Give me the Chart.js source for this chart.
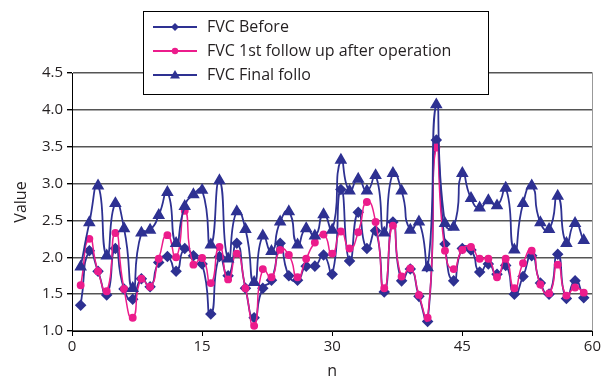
<!DOCTYPE html>
<html>
<head>
<meta charset="utf-8">
<script src="https://cdn.jsdelivr.net/npm/chart.js@4/dist/chart.umd.min.js"></script>
<style>
  body{margin:0;background:#fff;}
  #wrap{width:603px;height:381px;}
</style>
</head>
<body>
<div id="wrap"><canvas id="myChart"></canvas></div>
<script>
var n=[1,2,3,4,5,6,7,8,9,10,11,12,13,14,15,16,17,18,19,20,21,22,23,24,25,26,27,28,29,30,
  31,32,33,34,35,36,37,38,39,40,41,42,43,44,45,46,47,48,49,50,51,52,53,54,55,56,57,58,59];
var fvcBefore=[1.35,2.09,1.81,1.49,2.12,1.57,1.43,1.71,1.60,1.93, 2.01,1.81,2.12,2.02,1.91,1.23,2.01,1.75,2.19,1.58,
  1.18,1.58,1.69,2.19,1.75,1.69,1.88,1.88,2.03,1.77, 2.92,1.95,2.61,2.12,2.36,1.53,2.48,1.68,1.84,1.47,
  1.13,3.59,2.18,1.68,2.12,2.10,1.80,1.91,1.77,1.89, 1.50,1.74,2.02,1.65,1.50,2.04,1.44,1.68,1.45];
var fvcFirst=[1.62,2.25,1.81,1.54,2.33,1.57,1.18,1.71,1.60,1.98, 2.30,2.00,2.63,1.90,1.99,1.65,2.14,1.70,2.05,1.58,
  1.07,1.84,1.73,2.10,2.03,1.73,1.98,2.20,2.31,2.05, 2.35,2.12,2.34,2.75,2.48,1.58,2.43,1.74,1.85,1.49,
  1.18,3.49,2.09,1.84,2.10,2.14,1.98,1.98,1.73,1.98, 1.58,1.92,2.09,1.63,1.51,1.90,1.48,1.59,1.52];
var fvcFinal=[1.87,2.47,2.97,2.02,2.73,2.39,1.58,2.33,2.37,2.57, 2.88,2.19,2.69,2.85,2.91,2.17,3.04,1.98,2.62,2.38,
  1.66,2.29,2.08,2.48,2.62,2.17,2.39,2.29,2.58,2.37, 3.32,2.90,3.06,2.90,3.11,2.33,3.14,2.90,2.37,2.48,
  1.86,4.07,2.46,2.41,3.14,2.80,2.67,2.77,2.70,2.94, 2.10,2.73,2.97,2.47,2.38,2.83,2.19,2.46,2.23];
var seriesNames=['FVC Before','FVC 1st follow up after operation','FVC Final follo'];
var xTicks=[0,15,30,45,60];

var navy='#2E3192', pink='#EC1C8C';
var FONT='"Open Sans", "Noto Sans", sans-serif';

function pts(arr){ return arr.map(function(v,i){ return {x:n[i],y:v}; }); }

// legend box + right border
var extras={
  id:'extras',
  beforeDatasetsDraw:function(chart){
    var c=chart.ctx, a=chart.chartArea;
    c.save();
    c.strokeStyle='#999'; c.lineWidth=1;
    c.beginPath(); c.moveTo(Math.round(a.right)+0.5,a.top); c.lineTo(Math.round(a.right)+0.5,a.bottom); c.stroke();
    c.restore();
  },
  afterDraw:function(chart){
    var c=chart.ctx;
    c.save();
    c.fillStyle='#fff'; c.fillRect(143.5,11.5,345,83);
    c.strokeStyle='#000'; c.lineWidth=1; c.strokeRect(143.5,11.5,345,83);
    var rows=[27,51,75], cols=[navy,pink,navy], shapes=['diamond','circle','triangle'];
    for(var i=0;i<3;i++){
      var y=rows[i];
      c.strokeStyle=cols[i]; c.fillStyle=cols[i]; c.lineWidth=2;
      c.beginPath(); c.moveTo(153,y); c.lineTo(197,y); c.stroke();
      var cx=175; c.beginPath();
      if(shapes[i]=='diamond'){ c.moveTo(cx,y-4); c.lineTo(cx+4,y); c.lineTo(cx,y+4); c.lineTo(cx-4,y); c.closePath(); }
      else if(shapes[i]=='circle'){ c.arc(cx,y,3.2,0,Math.PI*2); }
      else { c.moveTo(cx,y-5); c.lineTo(cx+5,y+3.5); c.lineTo(cx-5,y+3.5); c.closePath(); }
      c.fill();
      c.fillStyle='#231f20'; c.font='16px '+FONT; c.textBaseline='middle'; c.textAlign='left';
      c.fillText(seriesNames[i],207,y);
    }
    c.restore();
  }
};

var ctx=document.querySelector('#myChart').getContext('2d');
var myChart=new Chart(ctx,{
  type:'line',
  data:{
    datasets:[{
      label:seriesNames[0],
      data:pts(fvcBefore),
      borderColor:navy, backgroundColor:navy,
      pointStyle:'rectRot', pointRadius:4.5, borderWidth:1.8,
      order:2
    },{
      label:seriesNames[1],
      data:pts(fvcFirst),
      borderColor:pink, backgroundColor:pink,
      pointStyle:'circle', pointRadius:3.2, borderWidth:1.5,
      order:1
    },{
      label:seriesNames[2],
      data:pts(fvcFinal),
      borderColor:navy, backgroundColor:navy,
      pointStyle:'triangle', pointRadius:5.5, borderWidth:1.8,
      order:0
    }]
  },
  options:{
    responsive:true,
    maintainAspectRatio:false,
    animation:false,
    layout:{padding:{top:73,right:10,left:0,bottom:0}},
    plugins:{legend:{display:false},tooltip:{enabled:false}},
    elements:{point:{borderWidth:0},line:{tension:0.65,cubicInterpolationMode:'default'}},
    scales:{
      x:{
        type:'linear', min:0, max:60,
        afterBuildTicks:function(s){ s.ticks=xTicks.map(function(v){return {value:v};}); },
        afterFit:function(s){ s.height=50; },
        grid:{drawOnChartArea:false, drawTicks:true, tickLength:5, tickColor:'#000'},
        border:{color:'#000',width:1},
        ticks:{color:'#231f20', font:{family:FONT,size:15}, padding:2, maxRotation:0},
        title:{display:true,text:'n',color:'#231f20',font:{family:FONT,size:16},padding:{top:0,bottom:0}}
      },
      y:{
        min:1, max:4.5,
        ticks:{stepSize:0.5, color:'#231f20', font:{family:FONT,size:15}, padding:4,
          callback:function(v){return v.toFixed(1);}},
        afterFit:function(s){ s.width=72; },
        grid:{color:'#555', lineWidth:1.4, drawTicks:true, tickLength:5, tickColor:'#000'},
        border:{color:'#000',width:1},
        title:{display:true,text:'Value',color:'#231f20',font:{family:FONT,size:16},padding:{top:12,bottom:4}}
      }
    }
  },
  plugins:[extras]
});
</script>
</body>
</html>
